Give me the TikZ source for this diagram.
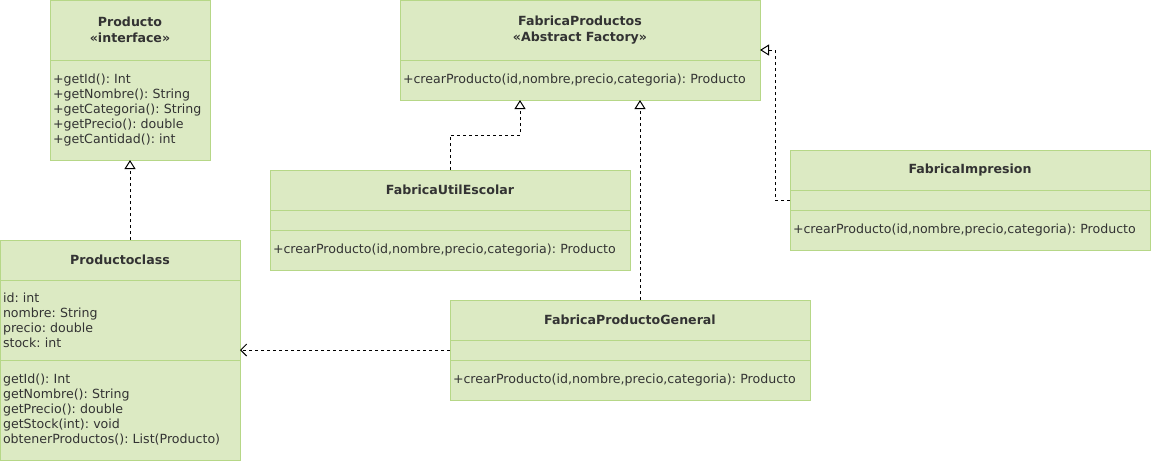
\documentclass[tikz,border=0pt]{standalone}
\usepackage{fontspec}
\setmainfont{DejaVu Sans}
\usetikzlibrary{arrows.meta,positioning,calc}
\definecolor{relleno}{RGB}{220,234,195}
\definecolor{borde}{RGB}{182,215,135}
\definecolor{texto}{RGB}{51,51,51}
\tikzset{
  caja/.style={draw=borde, fill=relleno, line width=1pt, inner sep=0pt, outer sep=0pt, text=texto},
  cabecera/.style={caja, font=\fontsize{12.6}{16}\selectfont\bfseries\frenchspacing, align=center},
  seccion/.style={caja, font=\fontsize{12.6}{15}\selectfont\frenchspacing, align=left, inner xsep=3pt},
  hereda/.style={draw=black, line width=1pt, dash pattern=on 3pt off 3pt, -{Triangle[open, width=11pt, length=9pt]}},
  usa/.style={draw=black, line width=1pt, dash pattern=on 3pt off 3pt, -{Straight Barb[width=12pt, length=6pt]}}
}
\begin{document}
\begin{tikzpicture}[x=1pt, y=-1pt, node distance=0pt]
\useasboundingbox (0,0) rectangle (1151,461);

% interfaz Producto
\node[cabecera, minimum width=160, minimum height=60, anchor=north west] (prod-H) at (50,0) {Producto\\«interface»};
\node[seccion, minimum width=160, minimum height=100, text width=154pt, below=of prod-H] (prod-M)
  {+getId(): Int\\+getNombre(): String\\+getCategoria(): String\\+getPrecio(): double\\+getCantidad(): int};

% clase Productoclass
\node[cabecera, minimum width=240, minimum height=40, anchor=north west] (pc-H) at (0,240) {Productoclass};
\node[seccion, minimum width=240, minimum height=80, text width=234pt, below=of pc-H] (pc-A)
  {id: int\\nombre: String\\precio: double\\stock: int};
\node[seccion, minimum width=240, minimum height=100, text width=234pt, below=of pc-A] (pc-M)
  {getId(): Int\\getNombre(): String\\getPrecio(): double\\getStock(int): void\\obtenerProductos(): List(Producto)};

% fabrica abstracta
\node[cabecera, minimum width=360, minimum height=60, anchor=north west] (fab-H) at (400,0) {FabricaProductos\\«Abstract Factory»};
\node[seccion, minimum width=360, minimum height=40, text width=354pt, below=of fab-H] (fab-M)
  {+crearProducto(id,nombre,precio,categoria): Producto};

% fabricas concretas
\foreach \nom/\x/\y/\id in {FabricaUtilEscolar/270/170/fue, FabricaImpresion/790/150/fi, FabricaProductoGeneral/450/300/fpg} {
  \node[cabecera, minimum width=360, minimum height=40, anchor=north west] (\id-H) at (\x,\y) {\nom};
  \node[seccion, minimum width=360, minimum height=20, below=of \id-H] (\id-E) {};
  \node[seccion, minimum width=360, minimum height=40, text width=354pt, below=of \id-E] (\id-M)
    {+crearProducto(id,nombre,precio,categoria): Producto};
}

% relaciones
\coordinate (fab-A) at ($(fab-M.south west)+(120,0)$);
\coordinate (fab-B) at ($(fab-M.south west)+(240,0)$);
\draw[hereda] (pc-H.north -| prod-M.south) -- (prod-M.south);
\draw[hereda] (fue-H.north) -- ++(0,-35) -| (fab-A);
\draw[hereda] (fpg-H.north -| fab-B) -- (fab-B);
\draw[hereda] (fi-E.west) -- ++(-15,0) |- ($(fab-H.east)+(0,20)$);
\draw[usa] (fpg-E.west) -- (fpg-E.west -| pc-A.east);
\end{tikzpicture}
\end{document}
